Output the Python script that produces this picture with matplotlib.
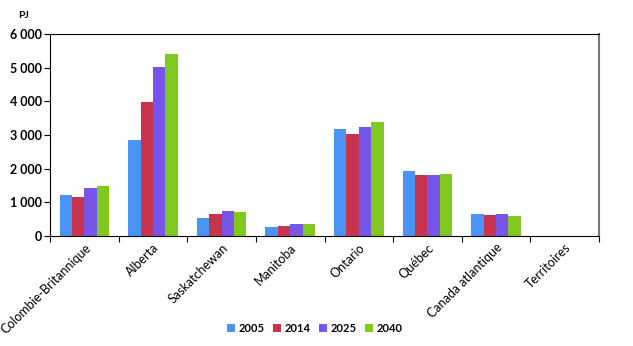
import matplotlib.pyplot as plt
import numpy as np

regions = ["Colombie-Britannique", "Alberta", "Saskatchewan", "Manitoba",
           "Ontario", "Québec", "Canada atlantique", "Territoires"]
years = ["2005", "2014", "2025", "2040"]
v2005 = [1220, 2840, 545, 277, 3180, 1930, 655, 12]
v2014 = [1170, 3970, 665, 306, 3040, 1800, 615, 12]
v2025 = [1435, 5020, 745, 347, 3240, 1800, 655, 14]
v2040 = [1485, 5415, 722, 347, 3380, 1840, 595, 14]
colors = ["#4a94f8", "#c8344e", "#7755e8", "#80c820"]

plt.rcParams['font.family'] = ['Lato', 'DejaVu Sans']

fig = plt.figure(figsize=(6.33, 3.46), dpi=100)
ax = fig.add_axes([50/633, 1 - 236/346, 549/633, 202/346])

x = np.arange(len(regions))
w = 0.18
series = [v2005, v2014, v2025, v2040]
for i, vals in enumerate(series):
    ax.bar(x + (i - 1.5) * w, vals, w, color=colors[i], label=years[i])

ax.set_xlim(-0.5, len(regions) - 0.5)
ax.set_ylim(0, 6000)
ax.set_yticks(range(0, 6001, 1000))
ax.set_yticklabels(["0", "1 000", "2 000", "3 000", "4 000", "5 000", "6 000"],
                   fontsize=9, fontweight='bold')
# group separators as major ticks, names on minor ticks
ax.set_xticks(np.arange(-0.5, len(regions)), minor=False)
ax.set_xticklabels([])
ax.set_xticks(x, minor=True)
ax.set_xticklabels(regions, minor=True, rotation=45, ha='right',
                   rotation_mode='anchor', fontsize=9)
ax.tick_params(axis='x', which='minor', length=0, pad=4)
ax.tick_params(axis='x', which='major', length=4, direction='out')
ax.tick_params(axis='y', length=4, direction='out', pad=2)
ax.spines['right'].set_color('#777777')
ax.spines['right'].set_linewidth(1.5)

fig.text(18/633, 1 - 15/346, "PJ", fontsize=7.5, fontweight='bold', va='center')
ax.legend(loc='center', bbox_to_anchor=(315/633, 1 - 328/346),
          bbox_transform=fig.transFigure, ncol=4, frameon=False,
          prop={'size': 8, 'weight': 'bold'}, handlelength=0.7,
          handleheight=0.7, handletextpad=0.3, columnspacing=0.8)

fig.savefig("out.png", dpi=100)
